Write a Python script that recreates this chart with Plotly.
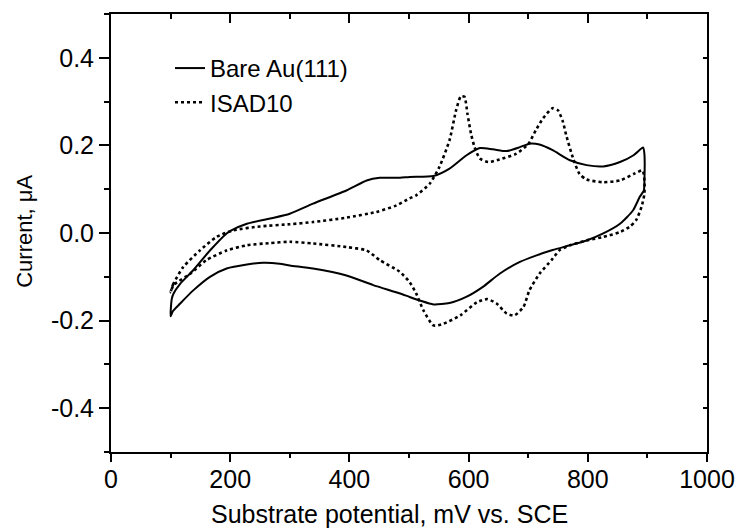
import plotly.graph_objects as go

# ---- data ----
bare_x = [100, 102, 105, 116, 138, 166, 194, 202, 228, 267, 300, 339, 395, 429, 451, 485, 501,
          541, 568, 596, 619, 641, 664, 686, 702, 719, 741, 770, 798, 826, 854, 876, 890, 893,
          895, 895, 894,
          887, 876, 854, 826, 798, 770, 741, 714, 686, 652, 624, 596, 568, 541, 518, 501, 485,
          440, 395, 339, 300, 283, 255, 228, 194, 166, 138, 116, 104, 100]
bare_y = [-0.190, -0.150, -0.138, -0.116, -0.085, -0.040, -0.001, 0.006, 0.021, 0.033, 0.044,
          0.067, 0.097, 0.120, 0.126, 0.126, 0.128, 0.130, 0.147, 0.177, 0.194, 0.191, 0.187,
          0.196, 0.204, 0.202, 0.189, 0.166, 0.155, 0.152, 0.162, 0.177, 0.193, 0.195,
          0.180, 0.120, 0.097,
          0.082, 0.052, 0.021, -0.001, -0.017, -0.028, -0.039, -0.051, -0.066, -0.093, -0.123,
          -0.146, -0.160, -0.163, -0.154, -0.146, -0.138, -0.119, -0.097, -0.081, -0.074,
          -0.070, -0.068, -0.072, -0.081, -0.100, -0.131, -0.161, -0.178, -0.190]

isad_x = [100, 104, 121, 149, 177, 205, 250, 300, 339, 395, 445, 479, 501, 512, 535, 551, 568,
          579, 587, 593, 598, 604, 610, 619, 633, 652, 680, 700, 713, 725, 741, 750, 758, 764,
          775, 786, 798, 826, 854, 879, 892, 895, 895,
          890, 881, 870, 854, 826, 798, 770, 753, 739, 719, 702, 692, 677, 664, 647, 631, 614,
          586, 558, 541, 524, 512, 501, 484, 451, 429, 395, 339, 300, 267, 228, 194, 160, 133,
          105, 100]
isad_y = [-0.135, -0.118, -0.078, -0.040, -0.009, 0.006, 0.015, 0.020, 0.025, 0.035, 0.048,
          0.063, 0.079, 0.086, 0.113, 0.151, 0.212, 0.280, 0.312, 0.311, 0.273, 0.227, 0.196,
          0.170, 0.162, 0.168, 0.181, 0.203, 0.235, 0.262, 0.285, 0.280, 0.255, 0.222, 0.172,
          0.135, 0.122, 0.116, 0.120, 0.136, 0.143, 0.120, 0.090,
          0.059, 0.029, 0.014, 0.002, -0.009, -0.017, -0.028, -0.039, -0.062, -0.093, -0.131,
          -0.169, -0.188, -0.184, -0.161, -0.151, -0.158, -0.188, -0.207, -0.211, -0.176,
          -0.138, -0.112, -0.088, -0.062, -0.040, -0.032, -0.024, -0.020, -0.023, -0.028,
          -0.040, -0.062, -0.093, -0.119, -0.135]

series_names = ["Bare Au(111)", "ISAD10"]

x_tickvals = [0, 200, 400, 600, 800, 1000]
x_ticktext = ["0", "200", "400", "600", "800", "1000"]
y_tickvals = [-0.4, -0.2, 0.0, 0.2, 0.4]
y_ticktext = ["-0.4", "-0.2", "0.0", "0.2", "0.4"]

x_title = "Substrate potential, mV vs. SCE"
y_title = "Current, \u03bcA"

FONT = "Liberation Sans, Arial, sans-serif"

fig = go.Figure()
fig.add_trace(go.Scatter(x=bare_x, y=bare_y, mode="lines", name=series_names[0],
                         line=dict(color="black", width=2, shape="spline", smoothing=0.6)))
fig.add_trace(go.Scatter(x=isad_x, y=isad_y, mode="lines", name=series_names[1],
                         line=dict(color="black", width=2.6, dash="dot", shape="spline",
                                   smoothing=0.6)))
# invisible trace to carry the mirrored (top/right) axes
fig.add_trace(go.Scatter(x=[None], y=[None], xaxis="x2", yaxis="y2", showlegend=False,
                         hoverinfo="skip"))

xr = [0, 1000]
yr = [-0.5, 0.5]

fig.update_layout(
    width=738, height=529,
    margin=dict(l=111, r=31, t=14, b=77, autoexpand=False),
    paper_bgcolor="white", plot_bgcolor="white",
    font=dict(family=FONT, size=25, color="black"),
    showlegend=True,
    legend=dict(x=0.099, y=0.927, xanchor="left", yanchor="top",
                bgcolor="rgba(0,0,0,0)", borderwidth=0,
                font=dict(size=24), tracegroupgap=0),
    xaxis=dict(range=xr, tickmode="array", tickvals=x_tickvals, ticktext=x_ticktext,
               ticks="outside", ticklen=8, tickwidth=1.5, tickcolor="black",
               minor=dict(ticks="outside", ticklen=4, tickwidth=1.5, tickcolor="black",
                          tickmode="linear", tick0=0, dtick=100),
               showline=True, linewidth=2, linecolor="black", showgrid=False, zeroline=False,
               tickfont=dict(size=25), ticklabelstandoff=-4, automargin=False),
    yaxis=dict(range=yr, tickmode="array", tickvals=y_tickvals, ticktext=y_ticktext,
               ticks="outside", ticklen=10, tickwidth=1.5, tickcolor="black",
               minor=dict(ticks="outside", ticklen=5, tickwidth=1.5, tickcolor="black",
                          tickmode="linear", tick0=0, dtick=0.1),
               showline=True, linewidth=2, linecolor="black", showgrid=False, zeroline=False,
               tickfont=dict(size=25), ticklabelstandoff=0, automargin=False),
    xaxis2=dict(range=xr, overlaying="x", side="top", anchor="y", showticklabels=False,
                tickmode="linear", tick0=0, dtick=200,
                ticks="inside", ticklen=9, tickwidth=1.5, tickcolor="black",
                minor=dict(ticks="inside", ticklen=5, tickwidth=1.5, tickcolor="black",
                           tickmode="linear", tick0=0, dtick=100),
                showline=True, linewidth=2, linecolor="black", showgrid=False, zeroline=False,
                automargin=False),
    yaxis2=dict(range=yr, overlaying="y", side="right", anchor="x", showticklabels=False,
                tickmode="linear", tick0=0, dtick=0.2,
                ticks="inside", ticklen=4, tickwidth=1.5, tickcolor="black",
                minor=dict(ticks="inside", ticklen=4, tickwidth=1.5, tickcolor="black",
                           tickmode="linear", tick0=0, dtick=0.1),
                showline=True, linewidth=2, linecolor="black", showgrid=False, zeroline=False,
                automargin=False),
    annotations=[
        dict(text=x_title, xref="paper", yref="paper", x=0.468, y=-0.142,
             xanchor="center", yanchor="middle", showarrow=False,
             font=dict(family=FONT, size=25, color="black")),
        dict(text=y_title, xref="paper", yref="paper", x=-0.1443, y=0.505,
             xanchor="center", yanchor="middle", showarrow=False, textangle=-90,
             font=dict(family=FONT, size=22, color="black")),
    ],
)

fig.write_html("out.html", config={"displayModeBar": False},
               post_script="document.body.style.margin='0';document.body.style.padding='0';")
